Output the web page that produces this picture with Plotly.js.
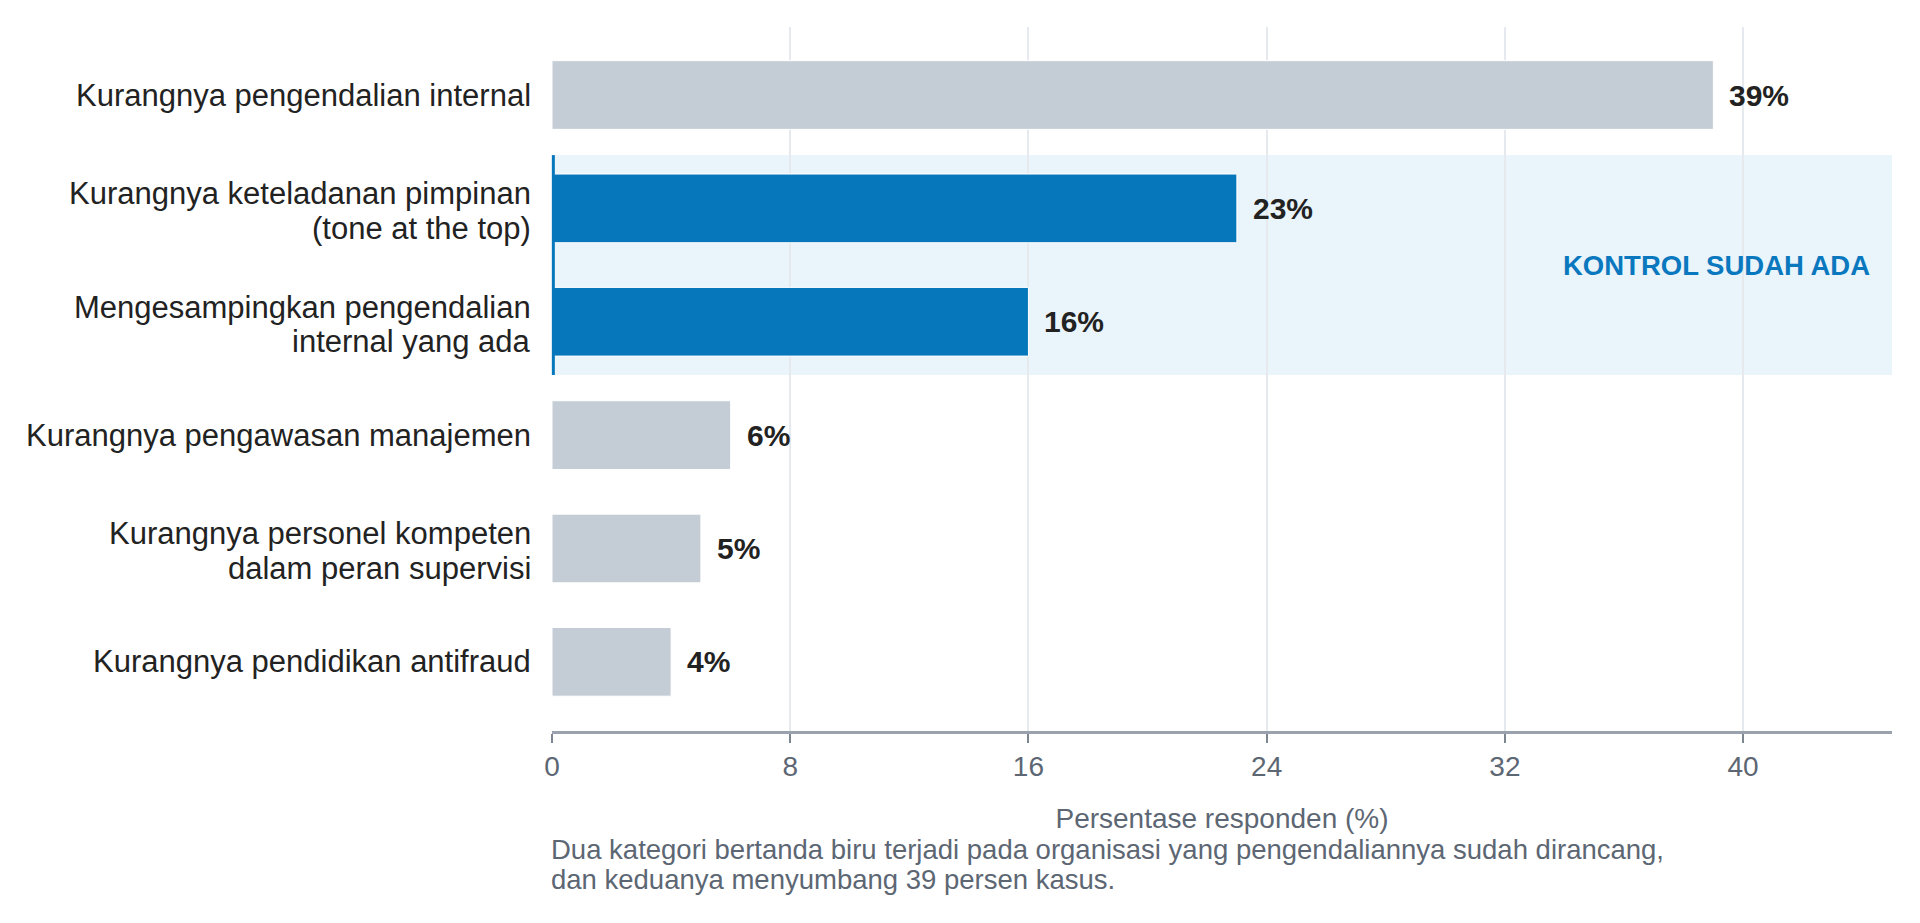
<!DOCTYPE html>
<html>
<head>
<meta charset="utf-8">
<script src="https://cdn.plot.ly/plotly-3.0.1.min.js"></script>
<style>
  html, body { margin: 0; padding: 0; background: #ffffff; }
  #chart { width: 1920px; height: 923px; }
</style>
</head>
<body>
<div id="chart"></div>
<script>
var categories = [
  'Kurangnya pengendalian internal',
  'Kurangnya keteladanan pimpinan<br>(tone at the top)',
  'Mengesampingkan pengendalian<br>internal yang ada',
  'Kurangnya pengawasan manajemen',
  'Kurangnya personel kompeten<br>dalam peran supervisi',
  'Kurangnya pendidikan antifraud'
];
var values = [39, 23, 16, 6, 5, 4];
var kontrolSudahAda = [false, true, true, false, false, false];
var valueLabels = ['39%', '23%', '16%', '6%', '5%', '4%'];
var xTicks = [0, 8, 16, 24, 32, 40];

var bandLabel = 'KONTROL SUDAH ADA';
var xTitle = 'Persentase responden (%)';
var captionLines = [
  'Dua kategori bertanda biru terjadi pada organisasi yang pengendaliannya sudah dirancang,',
  'dan keduanya menyumbang 39 persen kasus.'
];

var FONT = 'Liberation Sans, Arial, sans-serif';
var GRAY_BAR = '#c4ccd5';
var BLUE_BAR = '#0777bc';
var TEXT_DARK = '#222222';
var TEXT_MUTED = '#5d6774';
var LABEL_LINE = 34.3;   // px between lines of a category label
var CAPTION_LINE = 30;

// rows flagged as "kontrol sudah ada" get the blue band behind them
var flagged = [];
kontrolSudahAda.forEach(function(f, i) { if (f) flagged.push(i); });
var bandFrom = Math.min.apply(null, flagged) - 0.47;
var bandTo = Math.max.apply(null, flagged) + 0.47;

var barTrace = {
  type: 'bar',
  orientation: 'h',
  x: values,
  y: categories,
  marker: {
    color: kontrolSudahAda.map(function(f) { return f ? BLUE_BAR : GRAY_BAR; }),
    line: { color: '#ffffff', width: 1 }
  },
  hoverinfo: 'none',
  showlegend: false
};

var annotations = [];

// category labels, one annotation per line so the line spacing stays tight
categories.forEach(function(cat) {
  var lines = cat.split('<br>');
  var n = lines.length;
  lines.forEach(function(line, j) {
    annotations.push({
      x: 0,
      y: cat,
      xref: 'paper',
      yref: 'y',
      text: line,
      showarrow: false,
      xanchor: 'right',
      xshift: -19,
      yshift: ((n - 1) / 2 - j) * LABEL_LINE - (n > 1 ? 2.5 : 0),
      font: { family: FONT, size: 31, color: TEXT_DARK }
    });
  });
});

values.forEach(function(v, i) {
  annotations.push({
    x: v,
    y: categories[i],
    xref: 'x',
    yref: 'y',
    text: valueLabels[i],
    showarrow: false,
    xanchor: 'left',
    xshift: 14,
    font: { family: FONT, size: 30, color: TEXT_DARK, weight: 'bold' }
  });
});

annotations.push({
  x: 1,
  y: (bandFrom + bandTo) / 2,
  xref: 'paper',
  yref: 'y',
  text: bandLabel,
  showarrow: false,
  xanchor: 'right',
  xshift: -20,
  font: { family: FONT, size: 27.5, color: '#0a78be', weight: 'bold' }
});

captionLines.forEach(function(line, j) {
  annotations.push({
    x: 0,
    y: 0,
    xref: 'paper',
    yref: 'paper',
    text: line,
    align: 'left',
    showarrow: false,
    xanchor: 'left',
    yanchor: 'top',
    xshift: -3,
    yshift: -101 - j * CAPTION_LINE,
    font: { family: FONT, size: 27.5, color: TEXT_MUTED }
  });
});

var layout = {
  width: 1920,
  height: 923,
  margin: { l: 552, r: 28, t: 27, b: 192 },
  paper_bgcolor: '#ffffff',
  plot_bgcolor: '#ffffff',
  font: { family: FONT, color: TEXT_DARK },
  bargap: 0.394,
  xaxis: {
    range: [0, 45],
    tickvals: xTicks,
    ticktext: xTicks.map(String),
    showgrid: true,
    gridcolor: '#e6e9ed',
    gridwidth: 2,
    zeroline: false,
    showline: true,
    linecolor: '#9aa3ad',
    linewidth: 2.5,
    ticks: 'outside',
    ticklen: 9,
    tickwidth: 2,
    tickcolor: '#7d8792',
    tickfont: { family: FONT, size: 28, color: TEXT_MUTED },
    title: {
      text: xTitle,
      font: { family: FONT, size: 28, color: TEXT_MUTED },
      standoff: 28
    },
    automargin: false,
    fixedrange: true
  },
  yaxis: {
    type: 'category',
    categoryorder: 'array',
    categoryarray: categories,
    range: [5.61, -0.6],
    showgrid: false,
    zeroline: false,
    showline: false,
    ticks: '',
    showticklabels: false,
    automargin: false,
    fixedrange: true
  },
  shapes: [
    {
      type: 'rect',
      xref: 'paper',
      yref: 'y',
      x0: 0,
      x1: 1,
      y0: bandFrom,
      y1: bandTo,
      fillcolor: '#eaf4fb',
      line: { width: 0 },
      layer: 'between'
    },
    {
      type: 'line',
      xref: 'paper',
      yref: 'y',
      x0: 0.001,
      x1: 0.001,
      y0: bandFrom,
      y1: bandTo,
      line: { color: BLUE_BAR, width: 3 },
      layer: 'above'
    }
  ],
  annotations: annotations,
  showlegend: false
};

Plotly.newPlot('chart', [barTrace], layout, { displayModeBar: false, staticPlot: true });
</script>
</body>
</html>
